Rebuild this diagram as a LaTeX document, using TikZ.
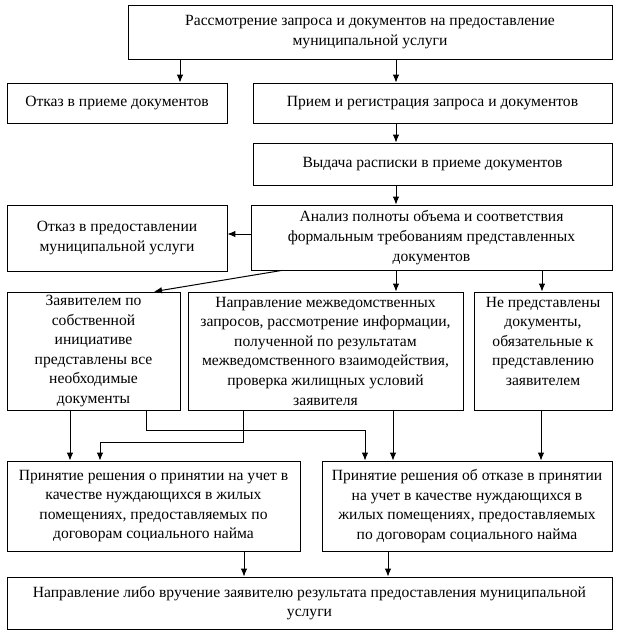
\documentclass[tikz,border=0pt]{standalone}
\usepackage{fontspec}
\setmainfont{Liberation Serif}
\usetikzlibrary{arrows.meta,positioning}

\begin{document}
\begin{tikzpicture}[
    x=1pt, y=-1pt, % one unit = one pixel, y going down
    ->, >={Latex[length=8pt,width=6.5pt]}, % filled arrow tips
    line width=1pt,
    block/.style={draw, rectangle, align=center, inner sep=1pt,
        line width=0.8pt, font=\fontsize{15.6}{19.6}\selectfont}
]
\useasboundingbox (0,0) rectangle (623,642);

% Nodes with texts
\node[block, minimum width=484pt, minimum height=54pt] (A) at (370,32) {Рассмотрение запроса и документов на предоставление\\муниципальной услуги};
\node[block, minimum width=220pt, minimum height=40pt] (B) at (117,103) {Отказ в приеме документов};
\node[block, minimum width=359pt, minimum height=40pt] (C) at (432.5,103) {Прием и регистрация запроса и документов};
\node[block, minimum width=359pt, minimum height=42pt] (D) at (432.5,164) {Выдача расписки в приеме документов};

\node[block, minimum width=220pt, minimum height=66pt] (E) at (117,238) {Отказ в предоставлении\\муниципальной услуги};
\node[block, minimum width=361pt, minimum height=65pt] (F) at (431.5,237.5) {Анализ полноты объема и соответствия\\формальным требованиям представленных\\документов};

\node[block, minimum width=173pt, minimum height=118pt] (G) at (93.5,351) {Заявителем по\\собственной\\инициативе\\представлены все\\необходимые\\документы};
\node[block, minimum width=275pt, minimum height=118pt] (H) at (325.5,351) {Направление межведомственных\\запросов, рассмотрение информации,\\полученной по результатам\\межведомственного взаимодействия,\\проверка жилищных условий\\заявителя};
\node[block, minimum width=138pt, minimum height=118pt] (I) at (543,351) {Не представлены\\документы,\\обязательные к\\представлению\\заявителем\\\mbox{}};

\node[block, minimum width=293pt, minimum height=90pt] (J) at (153.5,506) {Принятие решения о принятии на учет в\\качестве нуждающихся в жилых\\помещениях, предоставляемых по\\договорам социального найма};
\node[block, minimum width=290pt, minimum height=90pt] (K) at (467,506) {Принятие решения об отказе в принятии\\на учет в качестве нуждающихся в\\жилых помещениях, предоставляемых\\по договорам социального найма};

\node[block, minimum width=605pt, minimum height=52pt] (L) at (309.5,603) {Направление либо вручение заявителю результата предоставления муниципальной\\услуги};

% Arrows between blocks
\draw ([xshift=63pt]B.north |- A.south) -- ([xshift=63pt]B.north);
\draw ([xshift=-36.5pt]C.north |- A.south) -- ([xshift=-36.5pt]C.north);
\draw ([xshift=-36.5pt]C.south) -- ([xshift=-36.5pt]D.north);
\draw ([xshift=-35.5pt]F.north |- D.south) -- ([xshift=-35.5pt]F.north);
\draw ([yshift=3.5pt]F.west) -- ([yshift=3.5pt]F.west -| E.east);

\draw ([xshift=-149.5pt]F.south) -- ([xshift=60.5pt]G.north);
\draw ([xshift=70.5pt]H.north |- F.south) -- ([xshift=70.5pt]H.north);
\draw ([xshift=-1pt]I.north |- F.south) -- ([xshift=-1pt]I.north);

\draw ([xshift=-23.5pt]G.south) -- ([xshift=-23.5pt]G.south |- J.north);
\draw ([xshift=52.5pt]G.south) -- ++(0,20) -| ([xshift=-102pt]K.north);
\draw ([xshift=-82.5pt]H.south) -- ++(0,32) -| ([xshift=-53.5pt]J.north);
\draw ([xshift=67.5pt]H.south) -- ([xshift=67.5pt]H.south |- K.north);
\draw ([xshift=-2pt]I.south) -- ([xshift=-2pt]I.south |- K.north);

\draw ([xshift=90.5pt]J.south) -- ([xshift=90.5pt]J.south |- L.north);
\draw ([xshift=-79pt]K.south) -- ([xshift=-79pt]K.south |- L.north);

\end{tikzpicture}
\end{document}
